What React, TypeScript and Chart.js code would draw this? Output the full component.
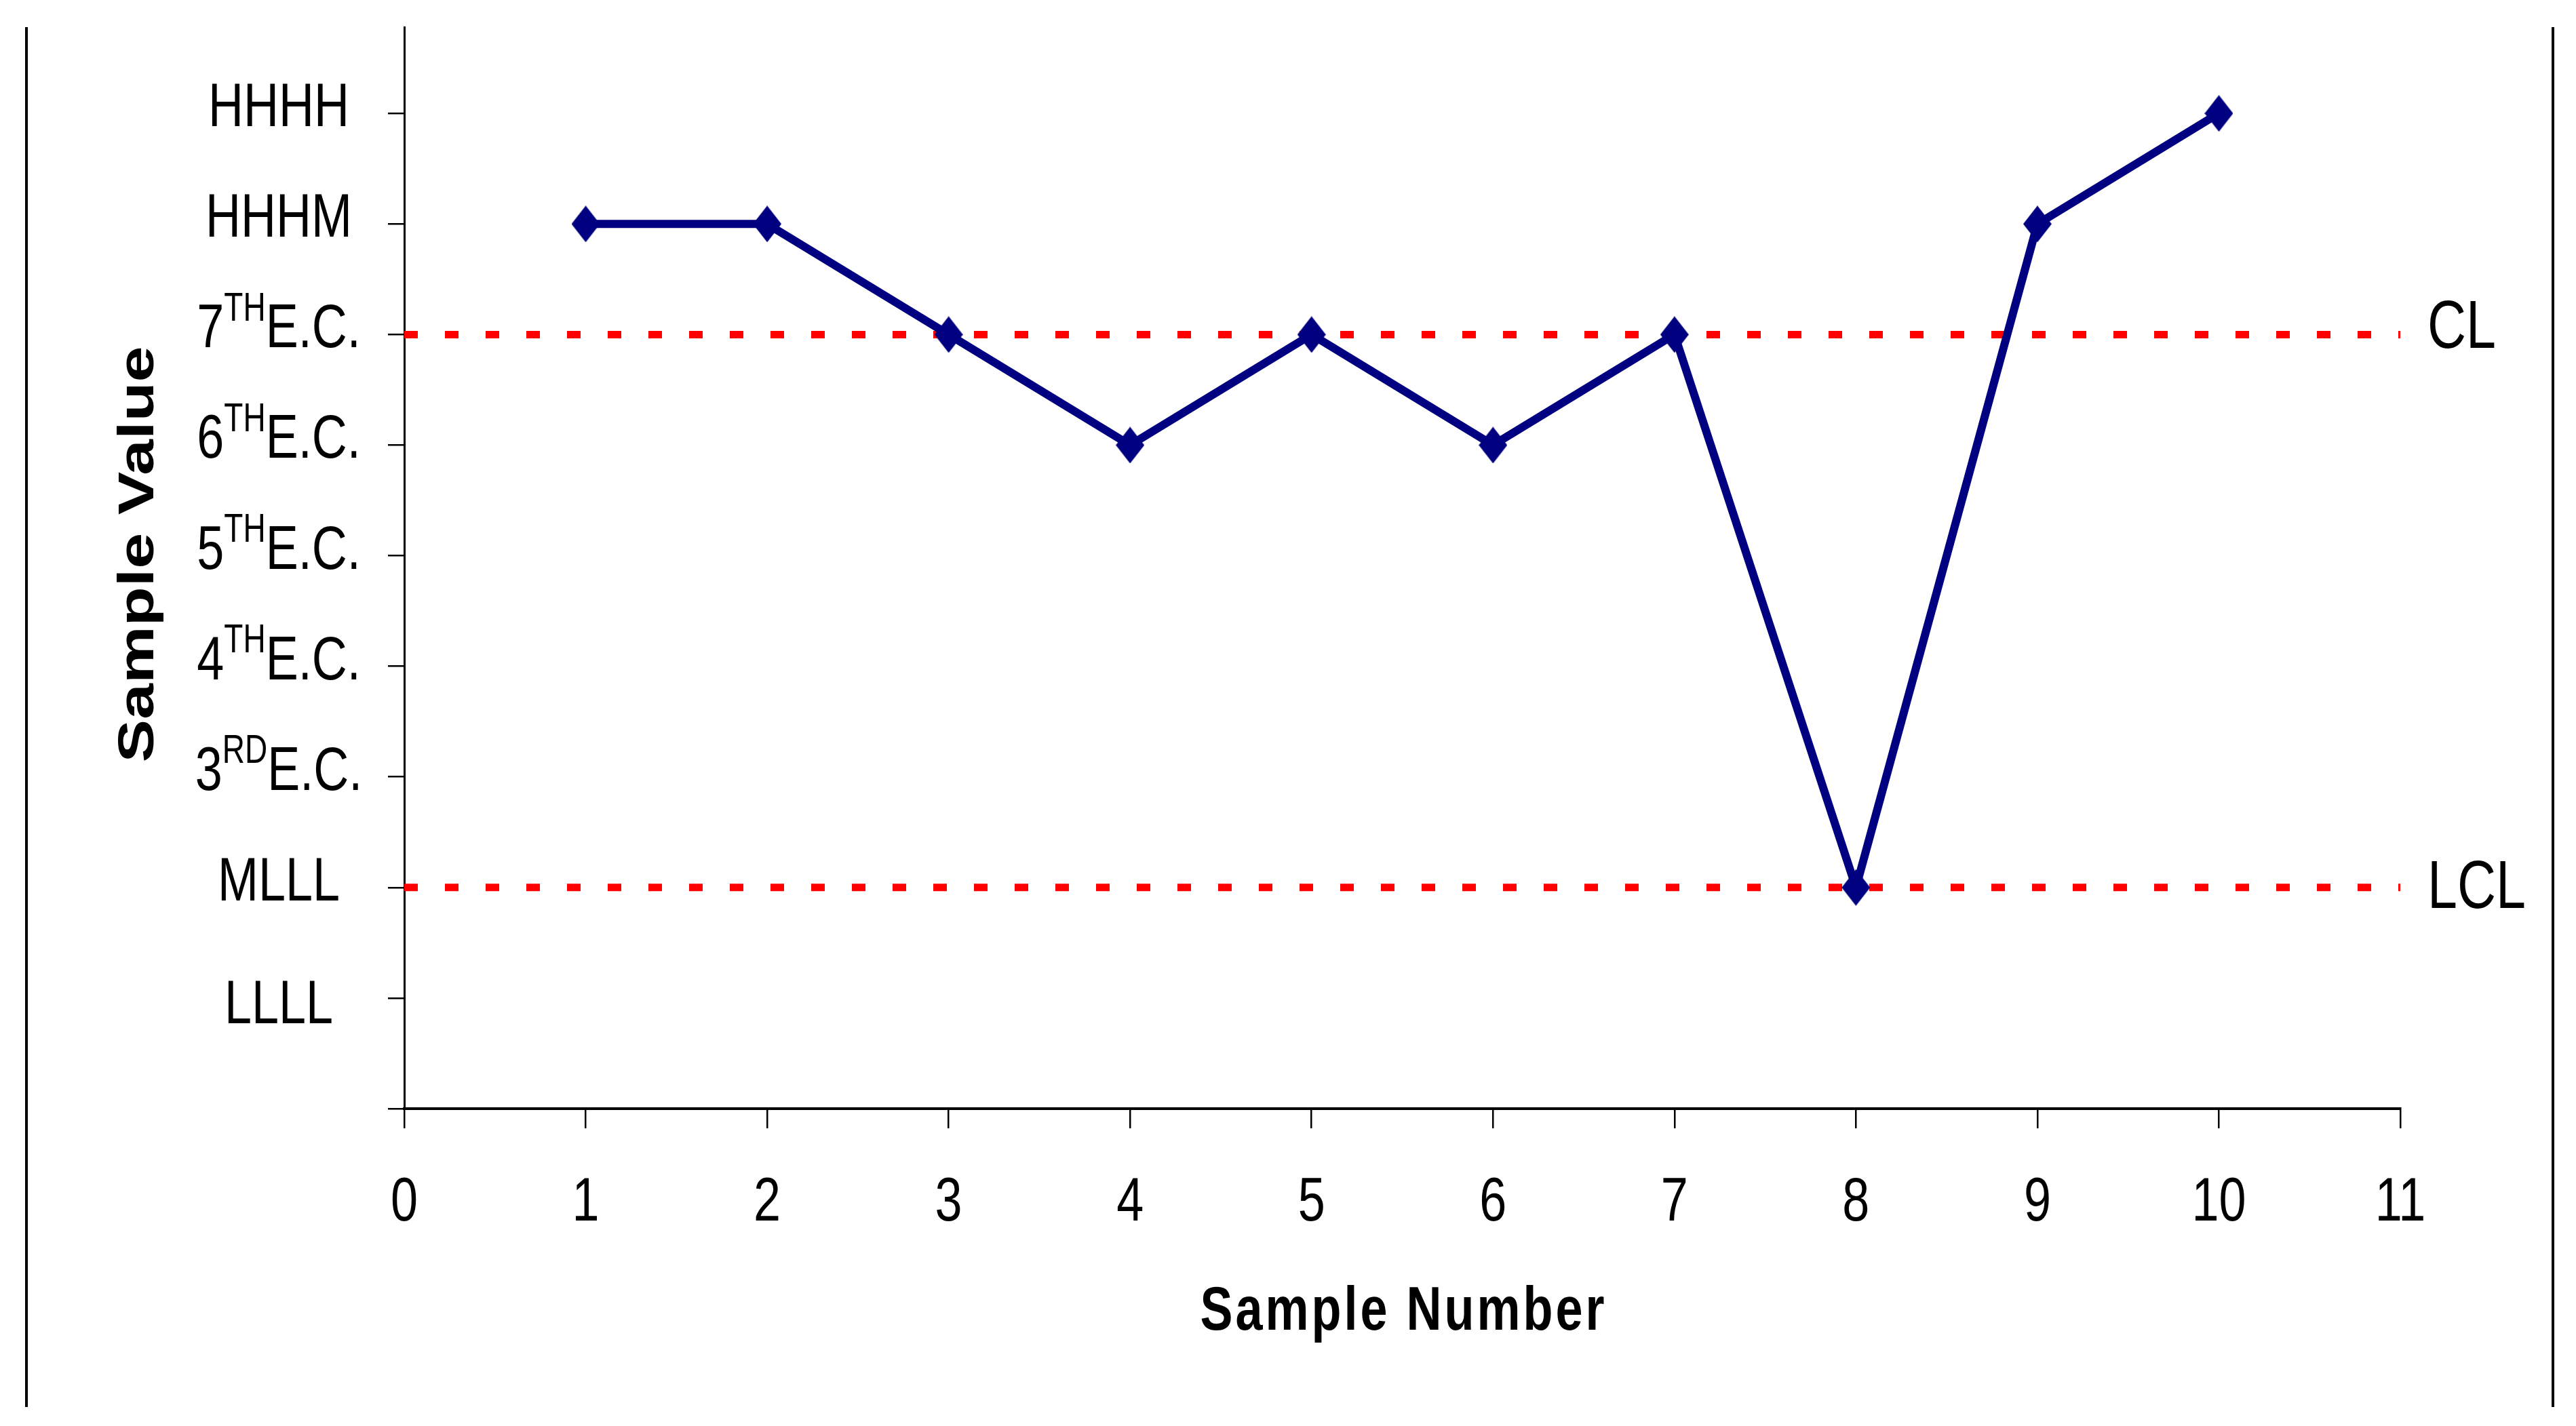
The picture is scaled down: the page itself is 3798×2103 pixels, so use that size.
import { useEffect, useRef } from 'react';
import { Chart, registerables } from 'chart.js';

Chart.register(...registerables);

// ---------------- data ----------------
const sampleNumbers = [1, 2, 3, 4, 5, 6, 7, 8, 9, 10];
const sampleValues = [8, 8, 7, 6, 7, 6, 7, 2, 8, 9];

// y tick labels by value: [base, superscript, rest]
const yTickLabels: [string, string, string][] = [
  ['', '', ''],
  ['LLLL', '', ''],
  ['MLLL', '', ''],
  ['3', 'RD', 'E.C.'],
  ['4', 'TH', 'E.C.'],
  ['5', 'TH', 'E.C.'],
  ['6', 'TH', 'E.C.'],
  ['7', 'TH', 'E.C.'],
  ['HHHM', '', ''],
  ['HHHH', '', ''],
];

const limitValues = [7, 2];
const limitLabels = ['CL', 'LCL'];
const xAxisTitle = 'Sample Number';
const yAxisTitle = 'Sample Value';
const xRange = [0, 11];
const yRange = [0, 9.78];

// ---------------- styling ----------------
const W = 3798;
const H = 2103;
const FONT = '"Liberation Sans", Arial, Helvetica, sans-serif';
const STRETCH = 1.27;
const NAVY = '#000080';
const RED = '#FF0000';

function makeDiamond(): HTMLCanvasElement {
  const c = document.createElement('canvas');
  c.width = 42;
  c.height = 54;
  const g = c.getContext('2d')!;
  g.fillStyle = NAVY;
  g.beginPath();
  g.moveTo(21, 0);
  g.lineTo(42, 27);
  g.lineTo(21, 54);
  g.lineTo(0, 27);
  g.closePath();
  g.fill();
  return c;
}

const textPlugin = {
  id: 'customText',
  afterDraw(chart: any) {
    const ctx: CanvasRenderingContext2D = chart.ctx;
    const xs = chart.scales.x;
    const ys = chart.scales.y;
    ctx.save();
    ctx.fillStyle = '#000';
    ctx.textBaseline = 'alphabetic';

    // outer frame lines (left and right)
    ctx.fillRect(37, 40, 4, 2035);
    ctx.fillRect(3762, 40, 4, 2035);

    // y tick labels with superscripts, centred in a column
    const colX = 411;
    for (let v = 1; v < yTickLabels.length; v++) {
      const [base, sup, rest] = yTickLabels[v];
      ctx.font = `72px ${FONT}`;
      const wb = ctx.measureText(base).width;
      const wr = ctx.measureText(rest).width;
      ctx.font = `46px ${FONT}`;
      const ws = sup ? ctx.measureText(sup).width : 0;
      const total = wb + ws + wr;
      const sx = colX - total / 2;
      const baseline = ys.getPixelForValue(v) + 19 + (v === 1 ? 18 : 0);
      ctx.save();
      ctx.translate(0, baseline);
      ctx.scale(1, STRETCH);
      ctx.textAlign = 'left';
      ctx.font = `72px ${FONT}`;
      ctx.fillText(base, sx, 0);
      if (sup) {
        ctx.font = `46px ${FONT}`;
        ctx.fillText(sup, sx + wb, -31);
      }
      if (rest) {
        ctx.font = `72px ${FONT}`;
        ctx.fillText(rest, sx + wb + ws, 0);
      }
      ctx.restore();
    }

    // x tick labels
    for (const t of xs.ticks) {
      const px = xs.getPixelForValue(t.value);
      ctx.save();
      ctx.translate(px, xs.top + 165);
      ctx.scale(1, STRETCH);
      ctx.textAlign = 'center';
      ctx.font = `72px ${FONT}`;
      ctx.fillText(String(t.value), 0, 0);
      ctx.restore();
    }

    // x axis title
    ctx.save();
    ctx.translate((xs.left + xs.right) / 2, xs.top + 326);
    ctx.scale(1, STRETCH);
    ctx.textAlign = 'center';
    ctx.font = `bold 72px ${FONT}`;
    (ctx as any).letterSpacing = '4px';
    ctx.fillText(xAxisTitle, 2, 0);
    (ctx as any).letterSpacing = '0px';
    ctx.restore();

    // y axis title (rotated)
    ctx.save();
    ctx.translate(226, (ys.top + ys.bottom) / 2 - 20);
    ctx.scale(1, STRETCH);
    ctx.rotate(-Math.PI / 2);
    ctx.textAlign = 'center';
    ctx.font = `bold 75px ${FONT}`;
    ctx.fillText(yAxisTitle, 0, 0);
    ctx.restore();

    // control limit labels
    limitValues.forEach((v, i) => {
      ctx.save();
      ctx.translate(xs.right + 40, ys.getPixelForValue(v) + (i === 0 ? 20 : 30));
      ctx.scale(1, STRETCH);
      ctx.textAlign = 'left';
      ctx.font = `79px ${FONT}`;
      ctx.fillText(limitLabels[i], 0, 0);
      ctx.restore();
    });

    ctx.restore();
  },
};

export default function App() {
  const ref = useRef<HTMLCanvasElement | null>(null);

  useEffect(() => {
    if (!ref.current) return;
    const diamond = makeDiamond();
    const series = sampleNumbers.map((x, i) => ({ x, y: sampleValues[i] }));
    const limitSets = limitValues.map((v, i) => ({
      label: limitLabels[i],
      data: [
        { x: xRange[0], y: v },
        { x: xRange[1], y: v },
      ],
      borderColor: RED,
      backgroundColor: RED,
      borderWidth: 11,
      borderDash: [20, 40],
      borderCapStyle: 'butt' as const,
      pointRadius: 0,
      fill: false,
      tension: 0,
    }));

    const chart = new Chart(ref.current, {
      type: 'line',
      data: {
        datasets: [
          {
            label: 'Sample',
            data: series,
            borderColor: NAVY,
            backgroundColor: NAVY,
            borderWidth: 12,
            borderJoinStyle: 'round',
            pointStyle: diamond as any,
            pointRadius: 20,
            pointHoverRadius: 20,
            fill: false,
            tension: 0,
          },
          ...limitSets,
        ],
      },
      options: {
        responsive: false,
        animation: false,
        devicePixelRatio: 1,
        events: [],
        layout: { padding: { left: 0, top: 40, right: W - 3539, bottom: 0 } },
        plugins: {
          legend: { display: false },
          tooltip: { enabled: false },
          title: { display: false },
        },
        scales: {
          x: {
            type: 'linear',
            min: xRange[0],
            max: xRange[1],
            ticks: { stepSize: 1, display: false },
            grid: {
              display: true,
              drawOnChartArea: false,
              drawTicks: true,
              tickLength: 29,
              tickWidth: 2.5,
              tickColor: '#000',
              color: '#000',
              lineWidth: 2.5,
            },
            border: { display: true, color: '#000', width: 4 },
            afterFit: (s: any) => {
              s.height = H - 1635;
            },
          },
          y: {
            type: 'linear',
            min: yRange[0],
            max: yRange[1],
            ticks: { stepSize: 1, display: false },
            afterBuildTicks: (s: any) => {
              s.ticks = s.ticks.filter((t: any) => Number.isInteger(t.value));
            },
            grid: {
              display: true,
              drawOnChartArea: false,
              drawTicks: true,
              tickLength: 24,
              tickWidth: 2.5,
              tickColor: '#000',
              color: '#000',
              lineWidth: 2.5,
            },
            border: { display: true, color: '#000', width: 3 },
            afterFit: (s: any) => {
              s.width = 596;
            },
          },
        },
      },
      plugins: [textPlugin],
    });
    return () => chart.destroy();
  }, []);

  return (
    <div
      style={{
        position: 'fixed',
        left: 0,
        top: 0,
        width: W,
        height: H,
        background: '#fff',
      }}
    >
      <canvas ref={ref} width={W} height={H} style={{ display: 'block', width: W, height: H }} />
    </div>
  );
}
